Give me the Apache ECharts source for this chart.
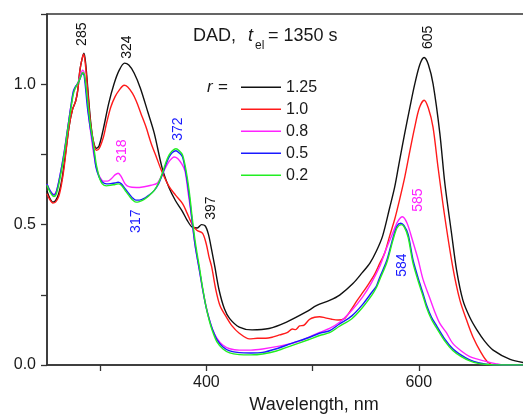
<!DOCTYPE html>
<html>
<head>
<meta charset="utf-8">
<script src="https://cdn.jsdelivr.net/npm/echarts@6/dist/echarts.min.js"></script>
<style>
  html, body { margin: 0; padding: 0; background: #fff; }
  #chart { width: 523px; height: 417px; }
</style>
</head>
<body>
<div id="chart"></div>
<script>
// Absorption spectra (DAD) at t_el = 1350 s for several r ratios: [wavelength nm, absorbance]
const seriesNames = ['1.25', '1.0', '0.8', '0.5', '0.2'];
const seriesColors = ['#111111', '#ff1a1a', '#ff22ff', '#1a1aff', '#22ee22'];

const spec125 = [[250,0.62],[252.5,0.595],[255.5,0.58],[258,0.585],[261,0.61],[264,0.66],[267,0.74],[270.8,0.85],[274,0.91],[277,0.94],[279,0.98],[281,1.05],[283,1.09],[284.8,1.11],[286.5,1.07],[288.5,0.98],[291,0.87],[293.5,0.80],[296.5,0.772],[299,0.78],[303,0.84],[308,0.93],[313,1.0],[318,1.05],[323,1.075],[327,1.068],[332,1.04],[338,0.985],[345,0.90],[351,0.825],[358.5,0.70],[365,0.63],[371,0.585],[377,0.55],[382,0.515],[387,0.49],[391.5,0.488],[395.5,0.50],[399,0.495],[402,0.465],[405,0.41],[408,0.35],[412,0.267],[417,0.2],[422,0.165],[431,0.135],[443,0.125],[459,0.13],[475.5,0.153],[494,0.189],[504,0.212],[516,0.23],[525.5,0.249],[538,0.29],[547,0.33],[554,0.363],[560,0.405],[566,0.46],[572.6,0.56],[577.4,0.635],[582,0.73],[586.8,0.826],[591.5,0.915],[596.2,1.0],[601,1.07],[605,1.095],[609,1.07],[613.5,1.0],[619.8,0.826],[624.5,0.648],[630.8,0.47],[635.6,0.338],[641.5,0.231],[648,0.17],[654.7,0.125],[662,0.085],[670,0.053],[686,0.02],[700,0.008]];

const spec100 = [[250,0.61],[252.5,0.59],[255.5,0.577],[258,0.58],[261,0.60],[263.5,0.64],[266,0.70],[270.8,0.85],[274,0.91],[277,0.94],[279,0.98],[281,1.05],[283,1.09],[284.5,1.107],[286,1.075],[288,0.99],[291,0.86],[294,0.79],[296.5,0.765],[299,0.77],[303,0.81],[306,0.86],[310,0.918],[314,0.955],[318,0.979],[322.6,0.996],[326,0.99],[330.5,0.967],[334,0.94],[338.4,0.896],[343,0.85],[348,0.79],[353,0.74],[358,0.69],[365,0.635],[371,0.605],[377.6,0.575],[382,0.54],[387,0.498],[391,0.48],[396.5,0.469],[400,0.43],[402.5,0.385],[405,0.35],[409,0.267],[413,0.21],[418.6,0.172],[424,0.14],[431,0.113],[440.6,0.093],[448,0.095],[456,0.095],[463,0.1],[469,0.107],[476,0.115],[481,0.128],[484,0.126],[487.7,0.139],[492,0.142],[497,0.162],[502,0.17],[506.6,0.172],[512,0.168],[518,0.163],[524,0.16],[530,0.165],[536,0.195],[542,0.23],[548,0.262],[553,0.29],[558,0.32],[563,0.36],[568,0.40],[572.6,0.46],[577.4,0.52],[582,0.59],[586.8,0.669],[591.5,0.76],[596.2,0.847],[600.5,0.915],[605,0.943],[609,0.915],[613.4,0.847],[618.1,0.705],[624.5,0.527],[632,0.349],[638.7,0.231],[645,0.16],[651,0.1],[658.5,0.045],[665,0.01],[672,0],[700,0]];

const spec080 = [[250,0.645],[253,0.62],[256.5,0.607],[259,0.62],[262,0.67],[266,0.754],[269.2,0.836],[272.4,0.919],[274.8,0.97],[277,0.99],[279,1.005],[281.5,1.03],[283.5,1.05],[285,1.04],[287,0.98],[289.5,0.88],[292.5,0.79],[295,0.73],[297.5,0.69],[300,0.667],[303,0.655],[307,0.655],[311,0.665],[314,0.677],[317,0.683],[320,0.67],[323.5,0.645],[327,0.635],[334,0.632],[341.5,0.635],[348,0.64],[354,0.648],[360.4,0.694],[365,0.725],[369.8,0.741],[373,0.735],[377,0.715],[380,0.69],[383,0.61],[386,0.53],[388.7,0.445],[391,0.39],[393.4,0.34],[396.5,0.27],[399.7,0.21],[403,0.16],[406,0.125],[410,0.095],[415.4,0.071],[422,0.058],[431,0.053],[442,0.053],[453,0.057],[470,0.068],[485,0.082],[496,0.098],[506,0.115],[516,0.13],[525.5,0.152],[537,0.195],[547,0.242],[555,0.29],[563,0.349],[569,0.41],[575.5,0.47],[580,0.51],[584.6,0.528],[589,0.505],[594,0.445],[599.5,0.374],[604,0.305],[610,0.242],[615,0.19],[619.8,0.148],[626,0.115],[632,0.077],[640,0.05],[648,0.03],[656,0.02],[664,0.012],[672,0.005],[680,0],[700,0]];

const spec050 = [[250,0.645],[253,0.62],[256.6,0.605],[259,0.62],[262,0.67],[266,0.754],[269.2,0.836],[272.4,0.919],[274.8,0.975],[276.5,0.99],[278.6,1.0],[281,1.018],[283.3,1.038],[285,1.03],[288,0.919],[290.5,0.85],[292.7,0.80],[294.5,0.75],[296,0.706],[299,0.67],[302,0.652],[306,0.645],[310,0.646],[314,0.648],[317,0.651],[320,0.645],[323.5,0.628],[327,0.611],[330.5,0.595],[333.7,0.587],[337,0.587],[341.5,0.593],[346,0.605],[351,0.622],[355,0.645],[358.8,0.68],[362,0.715],[365,0.741],[368,0.757],[371.4,0.763],[374.5,0.755],[377.6,0.741],[380.8,0.682],[384,0.599],[387,0.5],[389.5,0.425],[391.5,0.38],[393.4,0.34],[396.5,0.27],[399.7,0.207],[403,0.16],[406,0.125],[410,0.09],[415.4,0.065],[422,0.05],[431,0.044],[442,0.043],[453,0.045],[466,0.058],[481,0.078],[496,0.097],[506.6,0.113],[516,0.122],[525,0.145],[537,0.175],[547,0.215],[556,0.26],[560,0.28],[563,0.31],[570,0.374],[575.5,0.45],[579.5,0.495],[583,0.505],[586,0.497],[590,0.465],[594.6,0.374],[601,0.29],[604,0.255],[607.2,0.215],[612,0.17],[616.7,0.14],[624,0.095],[632,0.058],[640,0.035],[648,0.018],[656,0.008],[664,0.003],[670,0],[700,0]];

const spec020 = [[250,0.64],[253,0.615],[256.6,0.6],[259,0.612],[262,0.66],[266,0.745],[269.2,0.83],[272.4,0.91],[274.8,0.965],[276.5,0.985],[278.6,1.0],[281,1.02],[283.8,1.042],[285.5,1.03],[288.5,0.93],[291,0.85],[293.2,0.80],[295,0.75],[296.6,0.71],[299.5,0.665],[302,0.645],[306,0.638],[310,0.64],[314,0.643],[317,0.645],[320,0.64],[323.5,0.622],[327,0.604],[330.5,0.588],[333.7,0.58],[337,0.582],[341.5,0.59],[346,0.603],[351,0.622],[355,0.648],[358.8,0.685],[362,0.722],[365,0.748],[368,0.763],[371.4,0.77],[374.5,0.763],[377.6,0.748],[380.8,0.695],[384,0.615],[387,0.515],[389.5,0.44],[391.5,0.392],[393.4,0.35],[396.5,0.275],[399.7,0.208],[403,0.155],[406,0.118],[410,0.082],[415.4,0.058],[422,0.043],[431,0.037],[442,0.036],[453,0.039],[466,0.05],[481,0.07],[496,0.09],[506.6,0.105],[516,0.115],[525,0.137],[537,0.165],[547,0.205],[556,0.25],[560,0.275],[563,0.302],[570,0.366],[575.5,0.442],[579.5,0.488],[583.5,0.5],[586.5,0.49],[590,0.455],[594.6,0.362],[601,0.28],[604,0.245],[607.2,0.206],[612,0.162],[616.7,0.132],[624,0.088],[632,0.052],[640,0.03],[648,0.015],[656,0.006],[664,0.002],[670,0],[700,0]];

const spectra = [spec125, spec100, spec080, spec050, spec020];

// Band maxima annotations: [text, anchor nm, anchor absorbance, colour index]
const peakNotes = [
  ['285', 283, 1.178, 0],
  ['324', 325.5, 1.132, 0],
  ['318', 320.8, 0.762, 2],
  ['372', 373.6, 0.84, 3],
  ['317', 334, 0.512, 3],
  ['397', 404.7, 0.559, 0],
  ['605', 608.5, 1.167, 0],
  ['585', 599, 0.587, 2],
  ['584', 584, 0.356, 3]
];

const xTicks = [300, 400, 500, 600];
const xTickLabels = [400, 600];
const yTicks = [0, 0.25, 0.5, 0.75, 1.0, 1.25];
const yTickLabels = [0, 0.5, 1.0];

const FONT = "'Liberation Sans', Arial, Helvetica, sans-serif";
const INK = '#1a1a1a';
const AXIS = '#333333';

const chart = echarts.init(document.getElementById('chart'), null, { renderer: 'canvas' });

chart.setOption({
  animation: false,
  backgroundColor: '#ffffff',
  textStyle: { fontFamily: FONT },
  grid: {
    left: 47, top: 14, right: -2, bottom: 52,
    show: true, borderColor: AXIS, borderWidth: 1.5,
    outerBoundsMode: 'none'
  },
  legend: {
    orient: 'vertical',
    left: 241, top: 79, padding: 0,
    icon: 'rect',
    itemWidth: 40, itemHeight: 1.5, itemGap: 5.5,
    selectedMode: false,
    data: seriesNames,
    textStyle: { fontFamily: FONT, fontSize: 16, color: INK, lineHeight: 16.5 }
  },
  xAxis: {
    type: 'value', min: 250, max: 700,
    name: 'Wavelength, nm', nameLocation: 'middle', nameGap: 31,
    nameTextStyle: { fontFamily: FONT, fontSize: 18, color: INK, padding: [0, 0, 0, 56] },
    axisLine: { show: true, lineStyle: { color: AXIS, width: 1.5 } },
    axisTick: { show: true, length: 6, customValues: xTicks, lineStyle: { color: AXIS, width: 1.3 } },
    axisLabel: { customValues: xTickLabels, fontFamily: FONT, fontSize: 16, color: INK, margin: 10 },
    splitLine: { show: false }
  },
  yAxis: {
    type: 'value', min: 0, max: 1.25,
    axisLine: { show: true, lineStyle: { color: AXIS, width: 1.5 } },
    axisTick: { show: true, length: 6, customValues: yTicks, lineStyle: { color: AXIS, width: 1.3 } },
    axisLabel: {
      customValues: yTickLabels, fontFamily: FONT, fontSize: 16, color: INK, margin: 11,
      formatter: v => v.toFixed(1)
    },
    splitLine: { show: false }
  },
  series: seriesNames.map((name, i) => ({
    name: name,
    type: 'line',
    data: spectra[i],
    showSymbol: false,
    symbol: 'none',
    smooth: 0.3,
    color: seriesColors[i],
    itemStyle: { color: seriesColors[i] },
    lineStyle: { color: seriesColors[i], width: 1.4 },
    z: 2 + i
  }))
});

// Title, legend caption and rotated band labels
const texts = [
  { type: 'text', x: 193, y: 36, style: { text: 'DAD,', font: '18px ' + FONT, fill: INK, textAlign: 'left', textVerticalAlign: 'middle' } },
  { type: 'text', x: 248, y: 36, style: { text: 't', font: 'italic 18px ' + FONT, fill: INK, textAlign: 'left', textVerticalAlign: 'middle' } },
  { type: 'text', x: 255, y: 46, style: { text: 'el', font: '12px ' + FONT, fill: INK, textAlign: 'left', textVerticalAlign: 'middle' } },
  { type: 'text', x: 268, y: 36, style: { text: '= 1350 s', font: '18px ' + FONT, fill: INK, textAlign: 'left', textVerticalAlign: 'middle' } },
  { type: 'text', x: 207, y: 87, style: { text: 'r', font: 'italic 17px ' + FONT, fill: INK, textAlign: 'left', textVerticalAlign: 'middle' } },
  { type: 'text', x: 218, y: 87, style: { text: '=', font: '17px ' + FONT, fill: INK, textAlign: 'left', textVerticalAlign: 'middle' } }
];

peakNotes.forEach(([label, nm, val, ci]) => {
  const p = chart.convertToPixel({ gridIndex: 0 }, [nm, val]);
  texts.push({
    type: 'text', x: p[0], y: p[1], rotation: Math.PI / 2,
    style: { text: label, font: '14px ' + FONT, fill: seriesColors[ci], textAlign: 'center', textVerticalAlign: 'middle' }
  });
});

chart.setOption({ graphic: texts });
</script>
</body>
</html>
